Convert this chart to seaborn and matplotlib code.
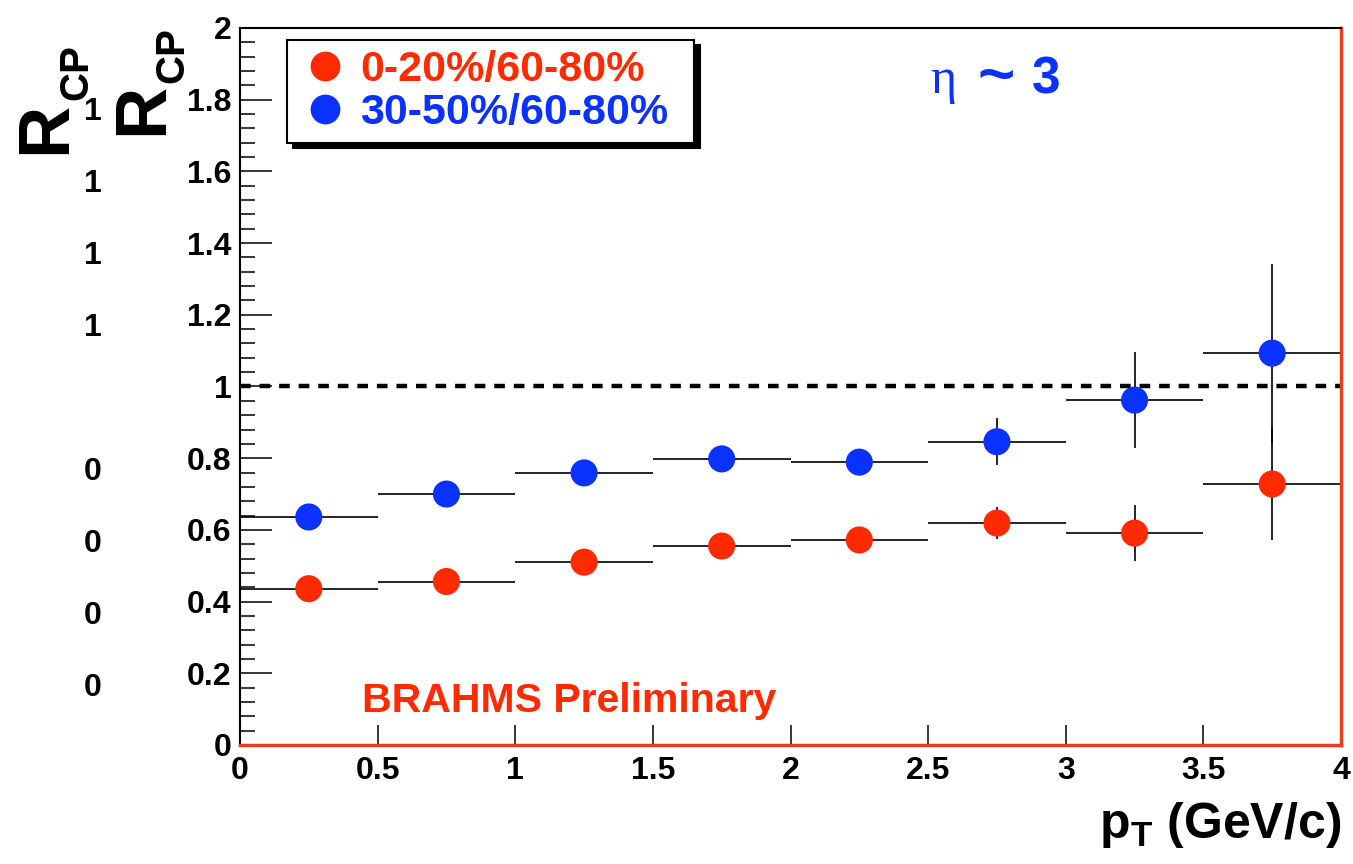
import matplotlib
matplotlib.use("Agg")
import matplotlib.pyplot as plt
from matplotlib.ticker import MultipleLocator, FuncFormatter
import numpy as np
import pandas as pd
import seaborn as sns

# pT bin centres and half-widths (GeV/c)
pt_bins = [0.25, 0.75, 1.25, 1.75, 2.25, 2.75, 3.25, 3.75]
pt_halfwidth = [0.25, 0.25, 0.25, 0.25, 0.25, 0.25, 0.25, 0.25]

ratio_labels = ["0-20%/60-80%", "30-50%/60-80%"]
ratio_colors = ["#ff2a00", "#0a32ff"]

# R_CP central / peripheral
rcp_central = [0.436, 0.456, 0.510, 0.555, 0.572, 0.619, 0.591, 0.728]
err_central = [0.006, 0.008, 0.010, 0.010, 0.012, 0.045, 0.078, 0.157]

# R_CP semi-central / peripheral
rcp_semi = [0.636, 0.700, 0.759, 0.798, 0.789, 0.846, 0.962, 1.093]
err_semi = [0.008, 0.010, 0.012, 0.012, 0.015, 0.065, 0.133, 0.250]

x_ticks = [0, 0.5, 1, 1.5, 2, 2.5, 3, 3.5, 4]
y_ticks = [0, 0.2, 0.4, 0.6, 0.8, 1, 1.2, 1.4, 1.6, 1.8, 2]

W, H = 1353, 864

sns.set_style("white")
plt.rcParams["font.family"] = ["Liberation Sans", "DejaVu Sans"]
plt.rcParams["font.weight"] = "bold"
for key in ["text.color", "axes.labelcolor", "xtick.color", "ytick.color"]:
    plt.rcParams[key] = "black"
plt.rcParams["mathtext.fontset"] = "custom"
plt.rcParams["mathtext.bf"] = "Liberation Sans:bold"
plt.rcParams["mathtext.rm"] = "Liberation Sans:bold"

df = pd.DataFrame({
    "pt": pt_bins * 2,
    "rcp": rcp_central + rcp_semi,
    "err": err_central + err_semi,
    "xerr": pt_halfwidth * 2,
    "ratio": [ratio_labels[0]] * len(pt_bins) + [ratio_labels[1]] * len(pt_bins),
})

fig = plt.figure(figsize=(W / 100, H / 100), dpi=100)
ax = fig.add_axes([240 / W, 1 - 745 / H, (1341 - 240) / W, (745 - 28) / H])

# reference line at unity
ax.axhline(1.0, color="black", lw=3.2, ls=(0, (2.4, 2.0)), zorder=1)

# bin widths and uncertainties
for lab in ratio_labels:
    sub = df[df["ratio"] == lab]
    ax.errorbar(sub["pt"], sub["rcp"], xerr=sub["xerr"], yerr=sub["err"],
                fmt="none", ecolor="black", elinewidth=1.2, capsize=0, zorder=2)

sns.scatterplot(data=df, x="pt", y="rcp", hue="ratio", hue_order=ratio_labels,
                palette=ratio_colors, s=380, edgecolor="none", linewidth=0,
                ax=ax, zorder=3)

ax.set_xlim(0, 4)
ax.set_ylim(0, 2)
ax.set_xticks(x_ticks)
ax.set_yticks(y_ticks)
ax.yaxis.set_minor_locator(MultipleLocator(0.04))
fmt = FuncFormatter(lambda v, p: "%g" % v)
ax.xaxis.set_major_formatter(fmt)
ax.yaxis.set_major_formatter(fmt)
ax.tick_params(axis="y", which="major", direction="in", length=23, width=1.1,
               labelsize=23, pad=6, left=True, right=False)
ax.tick_params(axis="y", which="minor", direction="in", length=11, width=1.1,
               left=True, right=False)
ax.tick_params(axis="x", which="major", direction="in", length=14.5, width=1.1,
               labelsize=23, pad=8, bottom=True, top=False)
for lbl in ax.get_xticklabels() + ax.get_yticklabels():
    lbl.set_fontweight("bold")
    lbl.set_color("black")

for side in ["top", "left"]:
    ax.spines[side].set_color("black")
    ax.spines[side].set_linewidth(1.5)
for side in ["bottom", "right"]:
    ax.spines[side].set_color("#e8401c")
    ax.spines[side].set_linewidth(2.5)

ax.set_xlabel(r"$\mathbf{p}_{\mathbf{T}}$ (GeV/c)", loc="right", fontsize=36,
              fontweight="bold", labelpad=10)
ax.set_ylabel("")

# legend with a solid drop shadow
sns.move_legend(
    ax, "upper left",
    bbox_to_anchor=(287 / W, 1 - 40 / H, (694 - 287) / W, 0),
    bbox_transform=fig.transFigure, mode="expand", title=None,
    frameon=True, fancybox=False,
    shadow={"color": "black", "alpha": 1, "ox": 4.3, "oy": -3.6},
    fontsize=31, borderpad=0.23, labelspacing=0.07, handlelength=1.3,
    handletextpad=0.16, borderaxespad=0, markerscale=1.1,
)
leg = ax.get_legend()
leg.get_frame().set_edgecolor("black")
leg.get_frame().set_linewidth(1.5)
leg.get_frame().set_alpha(1)
for txt, col in zip(leg.get_texts(), ratio_colors):
    txt.set_color(col)
    txt.set_fontweight("bold")

# pseudorapidity tag
fig.text(930 / W, 1 - 93 / H, "η", family="Liberation Serif", fontsize=36,
         color="#0a32ff", ha="left", va="baseline", fontweight="normal")
fig.text(996 / W, 1 - 78 / H, "~", fontsize=46, color="#0a32ff",
         ha="center", va="center", fontweight="heavy")
fig.text(1032 / W, 1 - 93 / H, "3", fontsize=37, color="#0a32ff",
         ha="left", va="baseline", fontweight="bold")

fig.text(362 / W, 1 - 712 / H, "BRAHMS Preliminary", fontsize=29.5,
         color="#ff2a00", ha="left", va="baseline", fontweight="bold")

# y-axis title, drawn twice
for rx, ry, cx, cy in [(65, 128, 87, 72), (162, 109, 183, 55)]:
    fig.text(rx / W, 1 - ry / H, "R", fontsize=52, fontweight="bold",
             rotation=90, rotation_mode="anchor", ha="center", va="baseline")
    fig.text(cx / W, 1 - cy / H, "CP", fontsize=29, fontweight="bold",
             rotation=90, rotation_mode="anchor", ha="center", va="baseline")

# clipped tick labels of a second axis
for yy in [112, 184, 256, 328]:
    fig.text(102 / W, 1 - yy / H, "1", fontsize=23, fontweight="bold",
             ha="right", va="center")
for yy in [472, 544, 616, 688]:
    fig.text(102 / W, 1 - yy / H, "0", fontsize=23, fontweight="bold",
             ha="right", va="center")

fig.savefig("out.png", dpi=100)
